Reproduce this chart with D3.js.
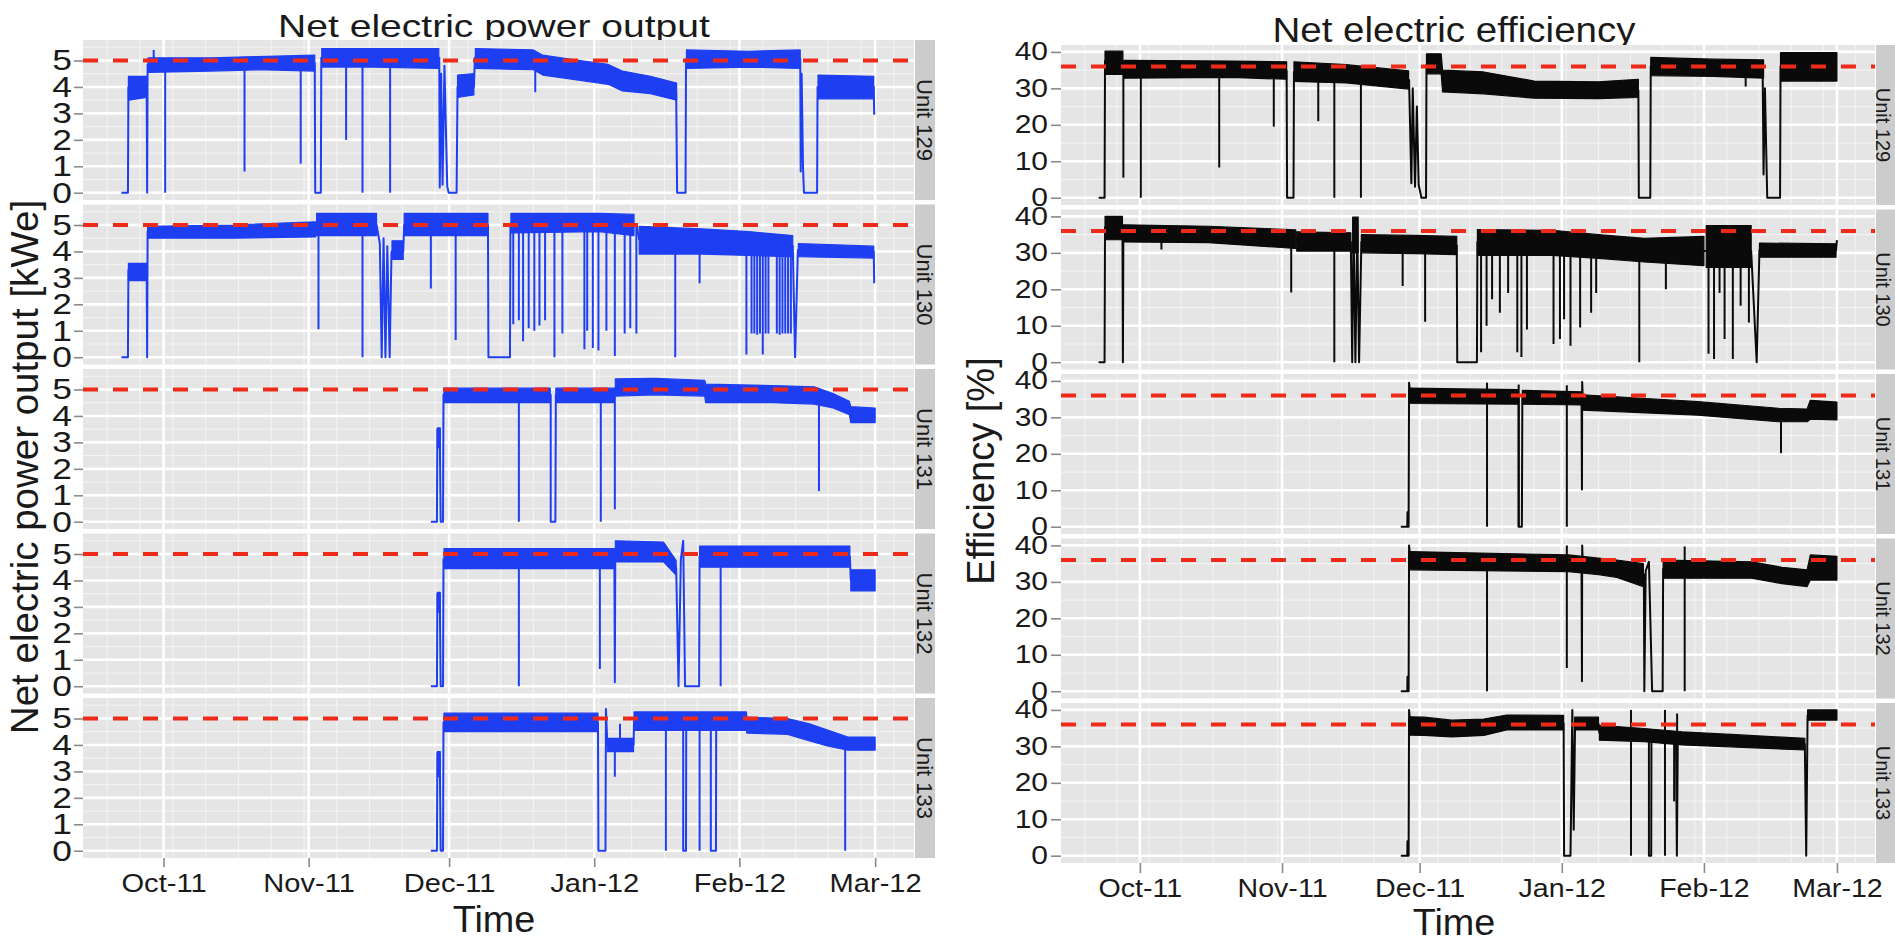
<!DOCTYPE html>
<html>
<head>
<meta charset="utf-8">
<script src="https://cdn.jsdelivr.net/npm/d3@7"></script>
<style>
  html, body { margin: 0; padding: 0; background: #fff; }
  svg { display: block; }
  text { font-family: "Liberation Sans", Arial, Helvetica, sans-serif; fill: #1a1a1a; }
</style>
</head>
<body>
<svg id="chart" width="1895" height="942"></svg>
<script>
// facets, ticks, reference lines
const units = ['Unit 129', 'Unit 130', 'Unit 131', 'Unit 132', 'Unit 133'];
const monthTicks = ['2011-10-01', '2011-11-01', '2011-12-01', '2012-01-01', '2012-02-01', '2012-03-01'];
const powerTicks = [0, 1, 2, 3, 4, 5];
const powerMinor = [0.5, 1.5, 2.5, 3.5, 4.5, 5.5];
const effTicks = [0, 10, 20, 30, 40];
const effMinor = [5, 15, 25, 35];
const powerRef = 5;
const effRef = 36;

// all times are days after 1 Oct 2011
// band = noise envelope [day, low, high], trace = level [day, value], dips = [day, from, to]
const p129Band = [
  [[-7.5, 3.5, 4.4], [-3.6, 3.6, 4.4]],
  [[-3.3, 4.55, 5.1], [10, 4.6, 5.1], [20, 4.65, 5.15], [32.3, 4.6, 5.2]],
  [[33.8, 4.75, 5.45], [45, 4.75, 5.45], [58.8, 4.7, 5.45]],
  [[62.8, 3.6, 4.45], [66.3, 3.7, 4.5]],
  [[66.6, 4.7, 5.45], [79, 4.65, 5.4], [81, 4.45, 5.2], [89, 4.25, 5.0], [95, 4.1, 4.85], [98, 3.85, 4.6], [104, 3.75, 4.4], [109.6, 3.5, 4.15]],
  [[111.7, 4.7, 5.4], [125, 4.75, 5.35], [136, 4.7, 5.4]],
  [[139.8, 3.55, 4.45], [151.7, 3.55, 4.4]]
];
const p129Trace = [[-9, 0], [-7.6, 0], [-7.5, 4.0], [-3.6, 4.0], [-3.5, 0], [-3.4, 4.85], [32.3, 4.9], [32.4, 0], [33.6, 0], [33.7, 5.1],
  [58.9, 5.1], [59, 0.2], [59.3, 4.5], [59.6, 0.3], [60, 4.8], [60.6, 0.25], [60.9, 0], [62.6, 0], [62.8, 4.0], [66.3, 4.0], [66.5, 5.1],
  [79, 5.0], [81, 4.8], [89, 4.6], [95, 4.45], [98, 4.2], [104, 4.05], [109.5, 3.8], [109.7, 0], [111.5, 0], [111.6, 5.05], [136.0, 5.05],
  [136.1, 0.8], [136.3, 4.5], [136.6, 0.9], [136.8, 0], [139.6, 0], [139.7, 4.0], [151.7, 4.0], [151.8, 2.95]];
const p129Dips = [[-2.1, 5.4, 4.8], [0.35, 4.85, 0], [17.3, 4.85, 0.8], [29.3, 4.9, 1.1], [39, 5.1, 2.0], [42.5, 5.1, 0], [48.4, 5.1, 0], [79.4, 5.0, 3.8]];

const p130Band = [
  [[-7.5, 2.9, 3.55], [-3.6, 2.9, 3.55]],
  [[-3.4, 4.5, 4.95], [15, 4.5, 5.0], [32.5, 4.55, 5.12]],
  [[32.7, 4.6, 5.44], [45.5, 4.6, 5.44]],
  [[48.8, 3.7, 4.4], [51.2, 3.7, 4.4]],
  [[51.4, 4.6, 5.44], [69.3, 4.6, 5.44]],
  [[74.2, 4.7, 5.44], [93, 4.75, 5.44], [100.5, 4.6, 5.4]],
  [[101.6, 3.9, 4.95], [115, 3.9, 4.85], [125, 3.85, 4.75], [134.4, 3.8, 4.6]],
  [[135.6, 3.8, 4.3], [151.7, 3.75, 4.2]]
];
const p130Trace = [[-9, 0], [-7.6, 0], [-7.5, 3.3], [-3.6, 3.3], [-3.5, 0], [-3.4, 4.75], [32.5, 4.85], [32.6, 5.0], [45.5, 5.0],
  [46.2, 4.3], [46.6, 0], [47, 4.5], [47.4, 0], [47.8, 4.2], [48.3, 0], [48.7, 4.0], [51.2, 4.0], [51.4, 5.0], [69.3, 5.0], [69.4, 0],
  [74.0, 0], [74.1, 5.05], [101, 5.0], [101.6, 4.45], [134.4, 4.2], [134.9, 0], [135.5, 4.05], [151.7, 4.0], [151.8, 2.8]];
const p130Dips = [[33.1, 5.0, 1.06], [42.5, 5.0, 0], [57.1, 5.0, 2.6], [62.4, 5.0, 0.65], [74.7, 5.0, 1.25], [75.9, 5.0, 1.4],
  [76.8, 5.0, 0.6], [78, 5.0, 1.1], [79.2, 5.0, 1.0], [80.3, 5.0, 1.2], [81.5, 5.0, 1.4], [83.5, 5.0, 0], [85.2, 5.0, 0.9],
  [89.9, 5.0, 0.3], [90.5, 5.0, 1.0], [91.7, 5.0, 0.35], [92.9, 5.0, 0.25], [94.6, 5.0, 1.0], [96.4, 5.0, 0.05], [98.5, 5.0, 0.9],
  [99.7, 5.0, 1.1], [101, 5.0, 0.9], [109.3, 4.4, 0], [114.5, 4.35, 2.8], [124.5, 4.3, 0.1], [125.6, 4.3, 0.9], [126.2, 4.3, 0.9],
  [126.8, 4.3, 0.85], [127.4, 4.3, 0.9], [128, 4.3, 0.1], [128.6, 4.3, 0.9], [129.2, 4.3, 0.9], [131, 4.3, 0.9], [131.6, 4.3, 0.85],
  [132.2, 4.3, 0.9], [132.8, 4.3, 0.9], [133.4, 4.3, 0.9], [134, 4.3, 0.9]];

const p131Band = [
  [[58.5, 2.8, 3.55], [59.1, 2.8, 3.55]],
  [[59.9, 4.5, 5.05], [82.6, 4.5, 5.05]],
  [[83.8, 4.5, 5.05], [96.3, 4.5, 5.05]],
  [[96.5, 4.75, 5.4], [105, 4.8, 5.42], [115.6, 4.75, 5.35], [115.8, 4.5, 5.2], [130, 4.5, 5.15], [139, 4.45, 5.1], [143, 4.3, 4.85],
   [146.5, 4.05, 4.55], [146.8, 3.75, 4.35], [152, 3.75, 4.3]]
];
const p131Trace = [[57.1, 0], [58.4, 0], [58.5, 3.5], [58.8, 2.9], [59.0, 3.5], [59.2, 0], [59.7, 0], [59.8, 4.8], [82.7, 4.8], [82.7, 0],
  [83.7, 0], [83.8, 4.8], [96.4, 4.8], [96.5, 5.05], [115.7, 5.05], [115.8, 4.85], [139, 4.8], [143, 4.55], [146.5, 4.3], [146.8, 4.0], [152, 4.0]];
const p131Dips = [[75.9, 4.8, 0], [93.4, 4.8, 0], [96.4, 4.8, 0.47], [140, 4.7, 1.16]];

const p132Band = [
  [[58.5, 2.8, 3.55], [59.1, 2.8, 3.55]],
  [[59.9, 4.45, 5.2], [96.3, 4.45, 5.2]],
  [[96.5, 4.7, 5.5], [106.8, 4.7, 5.45], [109.5, 4.2, 4.75]],
  [[114.5, 4.5, 5.3], [146.6, 4.5, 5.3]],
  [[146.8, 3.6, 4.4], [152, 3.6, 4.4]]
];
const p132Trace = [[57.1, 0], [58.4, 0], [58.5, 3.5], [58.8, 2.9], [59.0, 3.5], [59.2, 0], [59.7, 0], [59.8, 4.8], [96.3, 4.8], [96.4, 0.15],
  [96.5, 5.1], [106.9, 5.1], [109.5, 4.5], [110, 0], [110.5, 4.8], [111, 5.5], [111.4, 0], [114.4, 0], [114.5, 4.9], [146.6, 4.9],
  [146.8, 4.0], [152, 4.0]];
const p132Dips = [[75.9, 4.8, 0], [93.2, 4.8, 0.65], [119, 4.9, 0]];

const p133Band = [
  [[58.5, 2.8, 3.75], [59.1, 2.8, 3.75]],
  [[59.9, 4.5, 5.2], [92.8, 4.5, 5.2]],
  [[94.8, 3.75, 4.25], [100.4, 3.75, 4.25]],
  [[100.5, 4.55, 5.25], [124.5, 4.55, 5.25], [124.6, 4.45, 5.05], [133.3, 4.4, 5.0], [138, 4.15, 4.8], [142, 3.95, 4.55],
   [146.2, 3.8, 4.3], [152, 3.8, 4.3]]
];
const p133Trace = [[57.1, 0], [58.4, 0], [58.5, 3.7], [58.8, 2.9], [59.0, 3.7], [59.2, 0], [59.7, 0], [59.8, 4.85], [92.8, 4.85], [92.9, 0],
  [94.4, 0], [94.5, 5.36], [94.8, 4.0], [100.4, 4.0], [100.5, 4.9], [111, 4.9], [111, 0], [111.6, 0], [111.65, 4.9], [116.9, 4.9],
  [116.9, 0], [118, 0], [118.05, 4.9], [124.5, 4.9], [124.6, 4.75], [133.3, 4.7], [138, 4.5], [142, 4.3], [146.2, 4.0], [152, 4.0]];
const p133Dips = [[96.4, 4.0, 2.8], [97.5, 4.8, 4.0], [107.3, 4.9, 0], [114.5, 4.9, 0], [145.6, 4.1, 0]];

const e129Band = [
  [[-7.6, 33.8, 40.2], [-3.7, 33.8, 40.2]],
  [[-3.5, 32.8, 37.7], [20, 33, 37.5], [32, 32.5, 37.3]],
  [[33.6, 31.9, 37.3], [45, 31.5, 36.5], [58.6, 29.8, 34.8]],
  [[62.5, 34, 39.5], [65.7, 34, 39.5], [66, 29, 35], [75, 28.5, 34.5], [86, 27.3, 32], [100, 27.2, 31.8], [108.7, 27.5, 32.5]],
  [[111.4, 33.5, 38.5], [125, 33.3, 38], [136, 32.8, 37.8]],
  [[139.7, 32, 39.8], [152, 32, 39.8]]
];
const e129Trace = [[-9, 0], [-7.7, 0], [-7.6, 37.5], [-3.7, 37], [-3.55, 35.5], [32, 34.8], [32.1, 0], [33.5, 0], [33.6, 34.5],
  [58.7, 32.3], [59.2, 4], [59.5, 30], [60, 3], [60.4, 25], [60.8, 3.5], [61.4, 0], [62.4, 0], [62.5, 36.5], [65.7, 36], [66, 32.5],
  [82, 31], [86, 29.5], [108.7, 29.5], [108.8, 0], [111.3, 0], [111.4, 36], [135.8, 35.3], [136, 6.4], [136.3, 30], [136.8, 0],
  [139.6, 0], [139.7, 36], [152, 36]];
const e129Dips = [[-3.6, 37, 5.5], [0.2, 35.5, 0], [17.3, 35.2, 8.3], [29.2, 35, 19.5], [38.9, 34.3, 21], [42.4, 34, 0],
  [48.2, 33.5, 0], [132.1, 35.5, 30.5]];

const e130Band = [
  [[-7.6, 33.6, 40], [-3.8, 33.6, 40]],
  [[-3.6, 33, 37.7], [15, 32.8, 37.3], [34, 31.2, 36.3]],
  [[34.2, 30.5, 35.8], [46, 30.5, 35.5]],
  [[46.4, 30, 39.8], [47.6, 30, 39.8]],
  [[48.3, 30, 35], [60, 29.8, 34.8], [69.1, 29.5, 34.5]],
  [[73.6, 29.3, 36.4], [90, 29.3, 36.2], [100, 28.5, 35], [110, 27.5, 34], [123, 26.5, 34.5]],
  [[123.5, 26, 37.5], [133.3, 26, 37.5]],
  [[135.1, 28.8, 32.7], [151.8, 28.8, 32.5]]
];
const e130Trace = [[-9, 0], [-7.7, 0], [-7.6, 37], [-3.8, 37], [-3.7, 0], [-3.6, 35.3], [34, 33.8], [34.2, 33], [46, 33], [46.3, 0],
  [46.6, 38], [47, 0], [47.4, 36], [47.8, 0], [48.3, 33], [69.1, 32], [69.2, 0], [73.5, 0], [73.6, 33], [100, 32], [123, 30.5],
  [133.3, 30.5], [134.5, 0], [135.1, 30.7], [151.8, 30.7], [152, 33.5]];
const e130Dips = [[4.7, 35.3, 30.9], [33, 34, 19.1], [42.4, 33, 0], [57.3, 32.5, 20.9], [62.2, 32.5, 11.1], [74.4, 33, 2.7],
  [75.6, 33, 10], [76.8, 33, 17.3], [78.5, 33, 13.6], [80.3, 33, 19], [82.3, 33, 2.7], [83.2, 33, 1.4], [84.4, 33, 9], [90.2, 33, 5],
  [91.6, 33, 6.4], [92.5, 33, 11.8], [93.9, 33, 4.5], [96, 33, 9.5], [98.4, 33, 13.6], [99.5, 33, 19], [108.9, 31.5, 0],
  [114.7, 31, 20], [124, 30.5, 2.3], [125.2, 30.5, 0.9], [126.4, 30.5, 19], [127.5, 30.5, 6.4], [129.3, 30.5, 0.9],
  [131, 30.5, 15.5], [132.8, 30.5, 10.9]];

const e131Band = [
  [[58.7, 33.8, 38], [82.5, 33.6, 37.6]],
  [[83.4, 33.6, 37.4], [96.3, 33.4, 37]],
  [[96.5, 32, 36.2], [121.7, 30.6, 34.3], [139.2, 28.8, 32.5], [145.5, 28.8, 32.3], [146.2, 29.5, 34.7], [152, 29.3, 34.2]]
];
const e131Trace = [[56.9, 0], [58.3, 0], [58.35, 4], [58.4, 0], [58.6, 0], [58.7, 39.5], [59, 35.5], [82.6, 35.5], [82.6, 0],
  [83.3, 0], [83.4, 35.2], [96.3, 35], [96.4, 10.2], [96.45, 39.7], [96.6, 34], [121.7, 32.5], [139.2, 30.6], [145.5, 30.5],
  [146.2, 32], [152, 31.5]];
const e131Dips = [[75.7, 39.5, 0], [82.6, 39, 0], [93.1, 38.8, 0], [139.8, 30.6, 20.2]];

const e132Band = [
  [[58.7, 33.3, 38.3], [93.5, 32.8, 37.4], [100, 32, 36.5], [104, 31.2, 36], [109.8, 28.7, 35]],
  [[114.1, 31, 36], [133.4, 31, 35.5], [140, 29.5, 34], [145.5, 28.7, 33.3], [146.2, 30.5, 37.4], [152, 30.5, 37]]
];
const e132Trace = [[56.9, 0], [58.3, 0], [58.35, 4], [58.4, 0], [58.6, 0], [58.7, 40], [59, 35.7], [93.5, 35], [96.3, 35],
  [96.4, 2.7], [96.45, 40], [96.6, 34.2], [104, 33.5], [109.9, 32], [110, 0], [110.3, 33], [111, 35.5], [111.7, 0], [114, 0],
  [114.1, 33.5], [133.4, 33.2], [145, 31], [146.2, 34], [152, 34]];
const e132Dips = [[75.7, 35.5, 0], [93.1, 40, 6.4], [118.8, 39.7, 0]];

const e133Band = [
  [[58.7, 33.1, 38.1], [62, 33, 38], [68, 32.6, 37.2], [75, 33, 37.5], [80, 34.5, 38.6], [92.4, 34.5, 38.5]],
  [[94.8, 34.5, 38], [100, 34.5, 38]],
  [[100.2, 31.7, 35.8], [110, 31.3, 34.9], [118.2, 30.4, 34], [130, 29.8, 33.2], [145, 29, 32.2]],
  [[145.6, 37.2, 40], [152, 37.2, 40]]
];
const e133Trace = [[56.9, 0], [58.3, 0], [58.35, 4], [58.4, 0], [58.6, 0], [58.7, 40], [59, 35.6], [92.4, 36.3], [92.5, 0],
  [93.9, 0], [94.3, 40], [94.6, 7.1], [94.9, 36.2], [100, 36.2], [100.2, 33.7], [111, 32.9], [111, 0], [111.5, 0], [111.55, 32.9],
  [116.9, 32.3], [117.1, 0], [117.3, 32.2], [130, 31.4], [145, 30.6], [145.3, 0], [145.6, 38.5], [152, 38.5]];
const e133Dips = [[107.1, 40, 0], [114.5, 40, 0], [116.5, 32.4, 14.9], [117.15, 39, 32]];


const svg = d3.select('#chart');
const panelH = 160, panelGap = 4.5;
const day0 = Date.UTC(2011, 9, 1);
const toDate = d => new Date(day0 + d * 864e5);
const xDomain = [toDate(-17.2), toDate(160.3)];
const monthDates = monthTicks.map(s => new Date(s + 'T00:00:00Z'));
const mondays = d3.utcMonday.range(xDomain[0], xDomain[1]);

svg.append('rect').attr('width', 1895).attr('height', 942).attr('fill', '#fff');

// stretched text helper (the picture is wider than it is tall)
function label(x, y, str, size, sx, rot) {
  return svg.append('text')
    .attr('transform', `translate(${x},${y}) rotate(${rot || 0}) scale(${sx},1)`)
    .attr('text-anchor', 'middle')
    .attr('font-size', size)
    .text(str);
}

function drawFacets(opt) {
  const x = d3.scaleUtc().domain(xDomain).range([opt.left, opt.right]);
  const y = d3.scaleLinear().domain(opt.yDomain).range([panelH, 0]);
  const area = d3.area().x(d => x(toDate(d[0]))).y0(d => y(d[1])).y1(d => y(d[2]));
  const line = d3.line().x(d => x(toDate(d[0]))).y(d => y(d[1]));

  // title first, so the panel hides the descenders like in the original
  label(opt.titleX, opt.titleY, opt.title, opt.titleSize, opt.titleSx);
  label(opt.ytitleX, opt.ytitleY, opt.ytitle, opt.ytitleSize, 1, -90);
  label(opt.xtitleX, opt.xtitleY, 'Time', 36, 1.05);

  opt.series.forEach((s, i) => {
    const top = opt.top + i * (panelH + panelGap);
    const g = svg.append('g').attr('transform', `translate(0,${top})`);
    const clipId = `clip-${opt.key}-${i}`;
    g.append('clipPath').attr('id', clipId)
      .append('rect').attr('x', opt.left).attr('width', opt.right - opt.left).attr('height', panelH);

    g.append('rect')
      .attr('x', opt.left).attr('width', opt.right - opt.left).attr('height', panelH)
      .attr('fill', '#e5e5e5');

    const grid = g.append('g').attr('clip-path', `url(#${clipId})`);
    grid.selectAll('.minor-y').data(opt.yMinor).join('line')
      .attr('x1', opt.left).attr('x2', opt.right)
      .attr('y1', d => y(d)).attr('y2', d => y(d))
      .attr('stroke', '#f2f2f2').attr('stroke-width', 1.2);
    grid.selectAll('.minor-x').data(mondays).join('line')
      .attr('x1', d => x(d)).attr('x2', d => x(d))
      .attr('y1', 0).attr('y2', panelH)
      .attr('stroke', '#f2f2f2').attr('stroke-width', 1.2);
    grid.selectAll('.major-y').data(opt.yTicks).join('line')
      .attr('x1', opt.left).attr('x2', opt.right)
      .attr('y1', d => y(d)).attr('y2', d => y(d))
      .attr('stroke', '#fff').attr('stroke-width', 2.6);
    grid.selectAll('.major-x').data(monthDates).join('line')
      .attr('x1', d => x(d)).attr('x2', d => x(d))
      .attr('y1', 0).attr('y2', panelH)
      .attr('stroke', '#fff').attr('stroke-width', 2.6);

    const marks = g.append('g').attr('clip-path', `url(#${clipId})`);
    marks.selectAll('path.band').data(s.band).join('path')
      .attr('d', area)
      .attr('fill', opt.color)
      .attr('stroke', opt.color).attr('stroke-width', 1.2).attr('stroke-linejoin', 'round');
    marks.append('path')
      .attr('d', line(s.trace))
      .attr('fill', 'none')
      .attr('stroke', opt.color).attr('stroke-width', 2).attr('stroke-linejoin', 'round');
    marks.selectAll('line.dip').data(s.dips).join('line')
      .attr('x1', d => x(toDate(d[0]))).attr('x2', d => x(toDate(d[0])))
      .attr('y1', d => y(d[1])).attr('y2', d => y(d[2]))
      .attr('stroke', opt.color).attr('stroke-width', 2);

    // reference line
    marks.append('line')
      .attr('x1', opt.left).attr('x2', opt.right)
      .attr('y1', y(opt.ref)).attr('y2', y(opt.ref))
      .attr('stroke', '#ef2a18').attr('stroke-width', 4)
      .attr('stroke-dasharray', '15,15');

    // strip
    g.append('rect')
      .attr('x', opt.right + 1).attr('width', opt.stripW).attr('height', panelH)
      .attr('fill', '#cccccc');
    g.append('text')
      .attr('transform', `translate(${opt.stripX},${panelH / 2}) rotate(90)`)
      .attr('text-anchor', 'middle').attr('dy', '0.35em')
      .attr('font-size', opt.stripFont).attr('fill', '#222')
      .text(units[i]);

    // y axis
    const ya = g.append('g').attr('transform', `translate(${opt.left},0)`)
      .call(d3.axisLeft(y).tickValues(opt.yTicks).tickFormat(d3.format('d'))
        .tickSize(opt.tickLen).tickPadding(opt.yPad));
    ya.select('.domain').remove();
    ya.selectAll('line').attr('stroke', '#8a8a8a').attr('stroke-width', 1.6);
    ya.selectAll('text')
      .attr('font-size', opt.yFont).attr('fill', '#1a1a1a')
      .attr('x', -(opt.tickLen + opt.yPad) / opt.ySx)
      .attr('transform', `scale(${opt.ySx},1)`);

    if (i === opt.series.length - 1) {
      const xa = g.append('g').attr('transform', `translate(0,${panelH})`)
        .call(d3.axisBottom(x).tickValues(monthDates).tickFormat(d3.utcFormat('%b-%y'))
          .tickSize(opt.tickLen).tickPadding(opt.xPad));
      xa.select('.domain').remove();
      xa.selectAll('line').attr('stroke', '#8a8a8a').attr('stroke-width', 1.6);
      xa.selectAll('text')
        .attr('font-size', opt.xFont).attr('fill', '#1a1a1a')
        .attr('transform', `scale(${opt.xSx},1)`);
    }
  });
}

drawFacets({
  key: 'power', left: 83, right: 914, top: 40, stripW: 20, stripX: 925, stripFont: 22,
  yDomain: [-0.275, 5.775], yTicks: powerTicks, yMinor: powerMinor, ref: powerRef,
  color: '#1e3ef2',
  series: [
    { band: p129Band, trace: p129Trace, dips: p129Dips },
    { band: p130Band, trace: p130Trace, dips: p130Dips },
    { band: p131Band, trace: p131Trace, dips: p131Dips },
    { band: p132Band, trace: p132Trace, dips: p132Dips },
    { band: p133Band, trace: p133Trace, dips: p133Dips }
  ],
  title: 'Net electric power output', titleX: 494, titleY: 37, titleSize: 32, titleSx: 1.22,
  ytitle: 'Net electric power output [kWe]', ytitleX: 38, ytitleY: 467, ytitleSize: 38.5,
  xtitleX: 494, xtitleY: 932,
  tickLen: 9, yPad: 2, yFont: 29, ySx: 1.22, xPad: 7, xFont: 26, xSx: 1.12
});

drawFacets({
  key: 'eff', left: 1061, right: 1875, top: 45, stripW: 19, stripX: 1883, stripFont: 20,
  yDomain: [-2.0, 41.9], yTicks: effTicks, yMinor: effMinor, ref: effRef,
  color: '#0a0a0a',
  series: [
    { band: e129Band, trace: e129Trace, dips: e129Dips },
    { band: e130Band, trace: e130Trace, dips: e130Dips },
    { band: e131Band, trace: e131Trace, dips: e131Dips },
    { band: e132Band, trace: e132Trace, dips: e132Dips },
    { band: e133Band, trace: e133Trace, dips: e133Dips }
  ],
  title: 'Net electric efficiency', titleX: 1454, titleY: 42, titleSize: 35, titleSx: 1.1,
  ytitle: 'Efficiency [%]', ytitleX: 994, ytitleY: 471, ytitleSize: 38,
  xtitleX: 1454, xtitleY: 935,
  tickLen: 10, yPad: 3, yFont: 25, ySx: 1.2, xPad: 6, xFont: 26, xSx: 1.1
});
</script>
</body>
</html>
